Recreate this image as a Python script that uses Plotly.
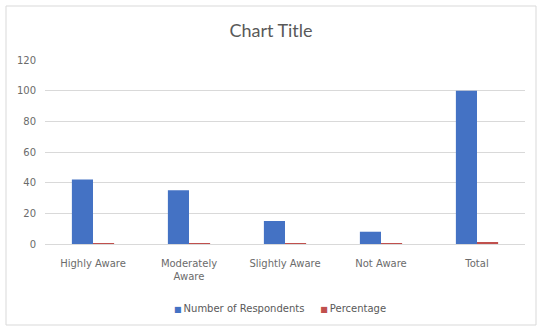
import plotly.graph_objects as go

# Survey awareness results
categories = ["Highly Aware", "Moderately<br>Aware", "Slightly Aware", "Not Aware", "Total"]
respondents = [42, 35, 15, 8, 100]
percentage = [0.42, 0.35, 0.15, 0.08, 1.00]
y_ticks = [0, 20, 40, 60, 80, 100, 120]
series_names = ["Number of Respondents", "Percentage"]
series_colors = ["#4472C4", "#C0504D"]

W, H = 542, 328
ML, MR, MT, MB = 45, 17, 60, 84
TICK_FONT = "DejaVu Sans, Verdana, sans-serif"

fig = go.Figure()
for name, vals, col in zip(series_names, [respondents, percentage], series_colors):
    fig.add_trace(go.Bar(name=name, x=categories, y=vals, showlegend=False,
                         marker=dict(color=col, line=dict(width=0))))

pw, ph = W - ML - MR, H - MT - MB
def px_x(v):
    return (v - ML) / pw
def px_y(v):
    return (H - MB - v) / ph

# outer chart border
fig.add_shape(type="rect", xref="paper", yref="paper",
              x0=px_x(6), x1=px_x(536), y0=px_y(325), y1=px_y(6),
              line=dict(color="#D9D9D9", width=1), fillcolor="rgba(0,0,0,0)", layer="below")

# compact legend with small square keys
legend_text = "&nbsp;&nbsp;&nbsp;&nbsp;&nbsp;".join(
    f'<span style="color:{c};font-size:8px">■</span>&#8201;{n}'
    for n, c in zip(series_names, series_colors)
)
fig.add_annotation(xref="paper", yref="paper", x=px_x(280), y=px_y(308),
                   xanchor="center", yanchor="middle", showarrow=False,
                   text=legend_text, font=dict(family=TICK_FONT, size=10, color="#595959"))

fig.update_layout(
    width=W, height=H,
    margin=dict(l=ML, r=MR, t=MT, b=MB, autoexpand=False),
    paper_bgcolor="white", plot_bgcolor="white",
    barmode="group", bargap=0.56, bargroupgap=0,
    font=dict(family=TICK_FONT, color="#595959", size=10),
    title=dict(text="Chart Title", x=0.5, xanchor="center", y=1 - 31 / H, yanchor="middle",
               font=dict(family="Lato, Carlito, sans-serif", size=18, color="#595959")),
    xaxis=dict(showgrid=False, showline=True, linecolor="#D9D9D9", linewidth=1,
               ticks="", tickfont=dict(size=10, color="#6b6b6b"), ticklabelstandoff=10),
    yaxis=dict(range=[0, 120], tickvals=y_ticks, showgrid=True, gridcolor="#D9D9D9",
               gridwidth=1, zeroline=False, showline=False, ticks="",
               tickfont=dict(size=10, color="#6b6b6b"), ticklabelstandoff=8),
    showlegend=False,
)

fig.write_html("out.html")
